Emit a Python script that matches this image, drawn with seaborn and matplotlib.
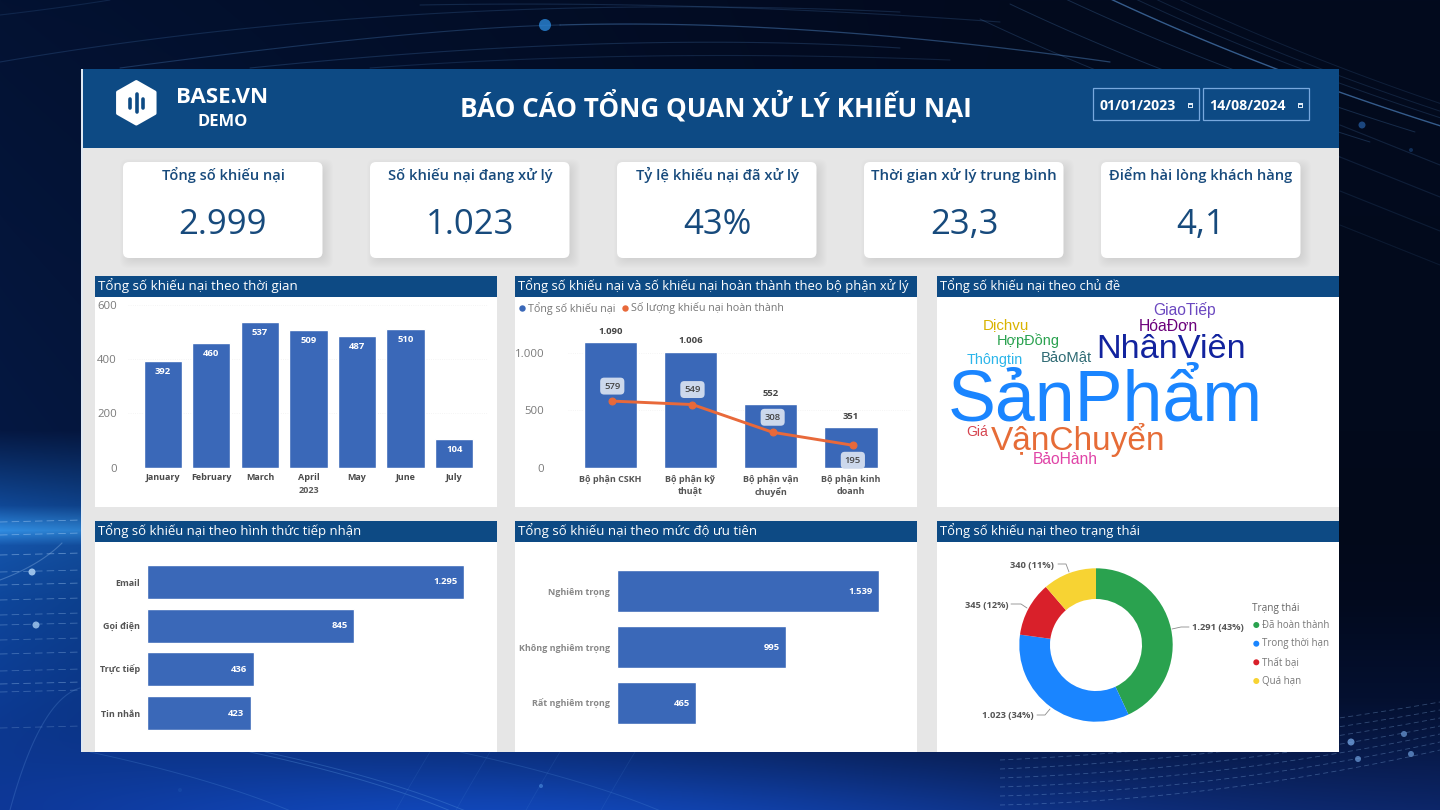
import numpy as np
import pandas as pd
import seaborn as sns
import matplotlib
matplotlib.use("Agg")
import matplotlib.pyplot as plt
from matplotlib.patches import FancyBboxPatch, Rectangle, Polygon, Circle

# ---- report data -------------------------------------------------------
report_title = "BÁO CÁO TỔNG QUAN XỬ LÝ KHIẾU NẠI"
kpi_titles = ["Tổng số khiếu nại", "Số khiếu nại đang xử lý", "Tỷ lệ khiếu nại đã xử lý",
              "Thời gian xử lý trung bình", "Điểm hài lòng khách hàng"]
kpi_values = ["2.999", "1.023", "43%", "23,3", "4,1"]

months = ["January", "February", "March", "April", "May", "June", "July"]
month_counts = [392, 460, 537, 509, 487, 510, 104]

departments = ["Bộ phận CSKH", "Bộ phận kỹ\nthuật", "Bộ phận vận\nchuyển", "Bộ phận kinh\ndoanh"]
dept_total = [1090, 1006, 552, 351]
dept_done = [579, 549, 308, 195]

channels = ["Email", "Gọi điện", "Trực tiếp", "Tin nhắn"]
channel_counts = [1295, 845, 436, 423]

priorities = ["Nghiêm trọng", "Không nghiêm trọng", "Rất nghiêm trọng"]
priority_counts = [1539, 995, 465]

statuses = ["Đã hoàn thành", "Trong thời hạn", "Thất bại", "Quá hạn"]
status_counts = [1291, 1023, 345, 340]
status_labels = ["1.291 (43%)", "1.023 (34%)", "345 (12%)", "340 (11%)"]
status_colors = ["#2aa24f", "#1a85ff", "#d9202a", "#f7d333"]

topics = ["SảnPhẩm", "NhânViên", "VậnChuyển", "GiaoTiếp", "HóaĐơn", "Dịchvụ",
          "HợpĐồng", "Thôngtin", "BảoMật", "Giá", "BảoHành"]
topic_colors = ["#1a85ff", "#12239e", "#e66c37", "#6b48c0", "#6b007b", "#d9b300",
                "#2aa24f", "#2bb5ea", "#2f6b74", "#d64550", "#e044a7"]

# ---- page geometry ------------------------------------------------------
W, H = 1440, 810
BAR = "#3a68b8"
NAVY = "#0d4a84"
INK = "#174a7c"
UI = "Open Sans"
LABEL_PT = 6.8

sns.set_theme(style="white")
plt.rcParams["font.family"] = [UI, "Noto Sans", "DejaVu Sans"]
plt.rcParams["axes.unicode_minus"] = False

fig = plt.figure(figsize=(W / 100, H / 100), dpi=100)
page = fig.add_axes([0, 0, 1, 1])
page.set_xlim(0, W)
page.set_ylim(H, 0)
page.axis("off")
renderer = fig.canvas.get_renderer()


def px_axes(x0, y0, x1, y1):
    ax = fig.add_axes([x0 / W, 1 - y1 / H, (x1 - x0) / W, (y1 - y0) / H])
    ax.patch.set_alpha(0)
    return ax


def fit(x, y, s, width, ha="left", va="center", **kw):
    """Place text on the page, scaled so that it spans the given pixel width."""
    t = page.text(x, y, s, ha=ha, va=va, fontsize=10, **kw)
    t.set_fontsize(10 * width / t.get_window_extent(renderer).width)
    return t


def thousands(v):
    return f"{v:,}".replace(",", ".")


def clean(ax, grid_axis=None):
    sns.despine(ax=ax, left=True, bottom=True)
    ax.set_xlabel("")
    ax.set_ylabel("")
    ax.tick_params(length=0)
    if grid_axis:
        ax.grid(axis=grid_axis, color="#f1f1f1", lw=0.6, ls=":")
        ax.set_axisbelow(True)


# ---- backdrop ------------------------------------------------------------
yy, xx = np.mgrid[0:H, 0:W]
stops_y = [0, 430, 505, 530, 545, 600, 700, 810]
left_rgb = np.array([[3, 18, 50], [5, 24, 66], [16, 72, 150], [48, 140, 225], [20, 84, 170],
                     [14, 70, 155], [12, 58, 145], [11, 42, 120]], float)
right_rgb = np.array([[2, 10, 30], [2, 10, 28], [2, 9, 26], [2, 9, 26], [2, 9, 27],
                      [2, 10, 30], [4, 16, 48], [12, 36, 100]], float)
blend = np.clip(xx / 1000.0, 0, 1) ** 0.9
sky = np.zeros((H, W, 3))
for c in range(3):
    sky[..., c] = (1 - blend) * np.interp(yy, stops_y, left_rgb[:, c]) + blend * np.interp(yy, stops_y, right_rgb[:, c])
glow = np.exp(-((xx - 520) / 560.0) ** 2 - ((yy - 830) / 75.0) ** 2)
sky += glow[..., None] * np.array([6, 34, 80])
page.imshow(np.clip(sky, 0, 255).astype(np.uint8), extent=(0, W, H, 0), aspect="auto", zorder=0)
page.set_xlim(0, W)
page.set_ylim(H, 0)


def curve(p0, p1, p2, color="#5f9fe6", lw=0.8, alpha=0.5, ls="-"):
    s = np.linspace(0, 1, 60)[:, None]
    pts = (1 - s) ** 2 * np.array(p0) + 2 * s * (1 - s) * np.array(p1) + s ** 2 * np.array(p2)
    page.plot(pts[:, 0], pts[:, 1], color=color, lw=lw, alpha=alpha, ls=ls, zorder=1, solid_capstyle="round")


# sweeping lines across the top
curve((0, 62), (420, -10), (900, 12), alpha=0.18)
curve((120, 68), (420, 28), (560, 25), alpha=0.25)
curve((560, 25), (800, 18), (1110, 62), lw=0.9, alpha=0.38)
curve((250, 68), (620, 30), (900, 48), alpha=0.2)
curve((370, 68), (640, 48), (950, 60), alpha=0.16)
curve((420, 5), (700, 0), (1000, 22), alpha=0.18)
curve((0, 15), (60, 8), (110, 0), alpha=0.14)
for dx, dy, a, w in [(0, 0, 0.55, 1.0), (-45, 0, 0.22, 0.7), (-90, 10, 0.22, 0.7), (-120, 25, 0.2, 0.7),
                     (25, 0, 0.18, 0.7), (45, 0, 0.16, 0.7), (68, 0, 0.14, 0.7)]:
    curve((1100 + dx, -6 + dy), (1260 + dx, 70 + dy), (1460 + dx, 132 + dy), alpha=a, lw=w)
for dy, a in [(30, 0.16), (62, 0.14), (96, 0.12), (130, 0.1)]:
    curve((1340, 95 + dy), (1390, 115 + dy), (1440, 135 + dy), alpha=a)
# streaks on the left edge
for y, a in [(522, 0.5), (535, 0.5), (555, 0.5), (572, 0.4), (585, 0.45), (600, 0.4), (615, 0.35), (625, 0.35),
             (640, 0.3), (654, 0.35), (671, 0.3), (684, 0.4), (692, 0.3), (728, 0.25)]:
    page.plot([0, 82], [y, y - 2], color="#a7cdf5", lw=0.6, alpha=a, ls=(0, (9, 5)), zorder=1)
curve((0, 580), (40, 565), (62, 543), color="#a7cdf5", alpha=0.3)
curve((10, 810), (40, 700), (80, 688), color="#6fa5e8", alpha=0.22)
# curves along the bottom
for dx, a in [(0, 0.22), (160, 0.3), (175, 0.28), (370, 0.2)]:
    curve((90 + dx, 752), (220 + dx, 780), (300 + dx, 815), alpha=a, lw=0.7)
for x0, a in [(130, 0.12), (190, 0.12), (260, 0.12), (335, 0.12)]:
    curve((x0 * 1.0 + 300, 752), (x0 + 280, 785), (x0 + 265, 812), alpha=a, lw=0.6)
# dashed mesh at the lower right
for k in range(7):
    curve((1000, 805 - k * 9), (1220, 800 - k * 10), (1440, 750 - k * 8), color="#8fbdf0", lw=0.6, alpha=0.32, ls=(0, (6, 4)))
# nodes
for x, y, r, c, a in [(545, 25, 6, "#2a86d8", 0.8), (1362, 125, 3.5, "#2d6fc0", 0.6), (1411, 150, 2, "#2d6fc0", 0.35),
                      (32, 572, 3.5, "#a8cdf2", 0.9), (36, 625, 3.5, "#a8cdf2", 0.8), (1351, 742, 3.5, "#6f9fdc", 0.8),
                      (1358, 759, 3, "#6f9fdc", 0.7), (1404, 734, 3, "#6f9fdc", 0.7), (1411, 754, 3, "#6f9fdc", 0.7),
                      (180, 790, 2, "#2d6fc0", 0.2), (541, 786, 2, "#4f8fe0", 0.6)]:
    page.add_patch(Circle((x, y), r, fc=c, ec="none", alpha=a, zorder=1.5))

# ---- report canvas and header ---------------------------------------------
page.add_patch(Rectangle((81, 69), 1258, 683, fc="#e6e6e6", ec="none", zorder=2))
page.add_patch(Rectangle((82, 69), 1257, 79, fc=NAVY, ec="none", zorder=2.1))
page.add_patch(Rectangle((81, 69), 1.5, 683, fc="#dfe8f2", ec="none", zorder=2.2))

# hexagon logo with three bars
hx = 136.3 + 18.5 * np.array([0.9, 0.9, 0, -0.9, -0.9, 0]) / 0.9
hy = 102.8 + 21 * np.array([-0.5, 0.5, 1, 0.5, -0.5, -1])
page.add_patch(Polygon(np.c_[hx, hy], closed=True, fc="white", ec="white", lw=2.5, joinstyle="round", zorder=3))
for x, y0, y1 in [(130, 98.5, 108), (136.5, 93.5, 112), (143.3, 99, 107.5)]:
    page.plot([x, x], [y0, y1], color=NAVY, lw=2.6, solid_capstyle="round", zorder=3.1)

fit(176.5, 97.5, "BASE.VN", 92, color="white", fontweight="bold", zorder=3)
fit(223, 122.5, "DEMO", 50, ha="center", color="white", fontweight="bold", zorder=3)
fit(716, 106, report_title, 512, ha="center", color="white", fontweight="bold", zorder=3)

for x0, label in [(1093, "01/01/2023"), (1203, "14/08/2024")]:
    page.add_patch(Rectangle((x0, 88), 105.5, 31.5, fc="none", ec="#78a9de", lw=0.9, zorder=3))
    fit(x0 + 6.5, 105.5, label, 76.5, color="white", fontweight="bold", zorder=3)
    page.add_patch(Rectangle((x0 + 94.5, 102.5), 5.5, 5.5, fc="#dce8f4", ec="none", zorder=3))
    page.add_patch(Rectangle((x0 + 95.5, 105), 3.5, 1.8, fc=NAVY, ec="none", zorder=3.1))

# ---- KPI cards ------------------------------------------------------------
card_left = [123, 370, 617, 864, 1101]
title_width = [123, 164, 162, 186, 184]
for x0, name, val, tw in zip(card_left, kpi_titles, kpi_values, title_width):
    cx = x0 + 100
    for grow in np.linspace(7, -3, 11):
        page.add_patch(FancyBboxPatch((x0 + 4 - grow, 166 - grow), 199 + 2 * grow, 95 + 2 * grow,
                                      boxstyle="round,pad=0,rounding_size=8", fc="black", ec="none",
                                      alpha=0.007, lw=0, zorder=3))
    page.add_patch(FancyBboxPatch((x0, 162), 199.5, 96, boxstyle="round,pad=0,rounding_size=6",
                                  fc="white", ec="none", lw=0, zorder=3.2))
    fit(cx, 175, name, tw, ha="center", color=INK, fontweight="semibold", zorder=4)
    page.text(cx, 224.5, val, ha="center", va="center", fontsize=25, color=INK, zorder=4)

# ---- panels -----------------------------------------------------------------
panels = [
    (95, 276, 497, 507, "Tổng số khiếu nại theo thời gian", 199),
    (515, 276, 917, 507, "Tổng số khiếu nại và số khiếu nại hoàn thành theo bộ phận xử lý", 391),
    (937, 276, 1339, 507, "Tổng số khiếu nại theo chủ đề", 179),
    (95, 521, 497, 752, "Tổng số khiếu nại theo hình thức tiếp nhận", 262),
    (515, 521, 917, 752, "Tổng số khiếu nại theo mức độ ưu tiên", 238),
    (937, 521, 1339, 752, "Tổng số khiếu nại theo trạng thái", 200),
]
for x0, y0, x1, y1, name, tw in panels:
    page.add_patch(Rectangle((x0, y0), x1 - x0, y1 - y0, fc="white", ec="none", zorder=3))
    page.add_patch(Rectangle((x0, y0), x1 - x0, 20.5, fc=NAVY, ec="none", zorder=3.1))
    fit(x0 + 3, y0 + 10, name, tw, color="white", zorder=4)

# monthly totals
ax = px_axes(128, 305, 488, 467.7)
months_df = pd.DataFrame({"month": months, "count": month_counts})
sns.barplot(data=months_df, x="month", y="count", color=BAR, saturation=1, width=0.79, ax=ax)
clean(ax, "y")
ax.set_xlim(-0.714, 6.694)
ax.set_ylim(0, 600)
ax.set_yticks([0, 200, 400, 600])
ax.tick_params(axis="y", labelsize=8.2, labelcolor="#7a7a7a", pad=8)
ax.tick_params(axis="x", labelsize=6.5, labelcolor="#4a4a4a", pad=4)
for lab in ax.get_xticklabels():
    lab.set_fontweight("bold")
for i, v in enumerate(month_counts):
    ax.annotate(str(v), (i, v), xytext=(0, -7.5), textcoords="offset points", ha="center", va="center",
                color="white", fontsize=LABEL_PT, fontweight="bold")
page.text(309, 490.5, "2023", ha="center", va="center", fontsize=6.6, color="#5a5a5a", fontweight="bold", zorder=4)

# department totals with completed line
ax = px_axes(568, 320, 911, 467.7)
dept_df = pd.DataFrame({"dept": departments, "total": dept_total, "done": dept_done})
sns.barplot(data=dept_df, x="dept", y="total", color=BAR, saturation=1, width=0.665, ax=ax)
sns.lineplot(x=np.arange(len(departments)) + 0.025, y=dept_done, color="#e8693a", lw=2.1, marker="o", ms=5,
             mec="#e8693a", ax=ax)
clean(ax, "y")
ax.set_xlim(-0.527, 3.75)
ax.set_ylim(0, 1284)
ax.set_yticks([0, 500, 1000])
ax.set_yticklabels(["0", "500", "1.000"])
ax.tick_params(axis="y", labelsize=8.2, labelcolor="#7a7a7a", pad=17)
ax.tick_params(axis="x", labelsize=6.5, labelcolor="#555555", pad=5)
for lab in ax.get_xticklabels():
    lab.set_fontweight("bold")
    lab.set_linespacing(1.4)
for i, v in enumerate(dept_total):
    ax.annotate(thousands(v), (i, v), xytext=(0, 8), textcoords="offset points", ha="center", va="center",
                color="#444444", fontsize=LABEL_PT, fontweight="bold")
for i, v in enumerate(dept_done):
    off = -10.8 if i == 3 else 10.8
    ax.annotate(str(v), (i + 0.025, v), xytext=(0, off), textcoords="offset points", ha="center", va="center",
                color="#444444", fontsize=LABEL_PT, fontweight="semibold", annotation_clip=False,
                bbox=dict(boxstyle="round,pad=0.42", fc="#ccd8ec", ec="none"), zorder=5)
page.add_patch(Circle((522.5, 308.5), 3.2, fc=BAR, ec="none", zorder=4))
fit(528, 308.5, "Tổng số khiếu nại", 88, color="#777777", zorder=4)
page.add_patch(Circle((625.5, 308.5), 3.2, fc="#e8693a", ec="none", zorder=4))
fit(631, 308.5, "Số lượng khiếu nại hoàn thành", 154, color="#777777", zorder=4)

# topic word cloud: size scaled by frequency, left edge and baseline per word
cloud_layout = [(948, 420.7, 316), (1096, 357.7, 150), (991, 450, 175), (1153, 315, 63), (1139, 330.7, 59.5),
                (982.5, 329, 46.5), (997, 345, 62.5), (966.5, 364, 56), (1041, 361, 51), (966, 436, 22),
                (1032.5, 464, 65.5)]
for word, col, (x, y, w) in zip(topics, topic_colors, cloud_layout):
    fit(x, y, word, w, va="baseline", color=col, family="Liberation Sans", zorder=4)

# intake channels
ax = px_axes(147, 550, 490, 740)
chan_df = pd.DataFrame({"channel": channels, "count": channel_counts})
sns.barplot(data=chan_df, y="channel", x="count", orient="h", color=BAR, saturation=1, width=0.778, ax=ax)
clean(ax)
ax.set_xlim(0, 343 / 0.2448)
ax.set_ylim((740 - 582) / 43.7, (550 - 582) / 43.7)
ax.set_xticks([])
ax.tick_params(axis="y", labelsize=6.5, labelcolor="#555555", pad=5)
for lab in ax.get_yticklabels():
    lab.set_fontweight("bold")
for i, v in enumerate(channel_counts):
    ax.annotate(thousands(v), (v, i), xytext=(-4.5, 0), textcoords="offset points", ha="right", va="center",
                color="white", fontsize=LABEL_PT, fontweight="bold")

# priority levels
ax = px_axes(617, 550, 905, 745)
prio_df = pd.DataFrame({"level": priorities, "count": priority_counts})
sns.barplot(data=prio_df, y="level", x="count", orient="h", color=BAR, saturation=1, width=0.75, ax=ax)
clean(ax)
ax.set_xlim(0, 288 / 0.1702)
ax.set_ylim((745 - 591) / 56, (550 - 591) / 56)
ax.set_xticks([])
ax.tick_params(axis="y", labelsize=6.5, labelcolor="#888888", pad=5)
for lab in ax.get_yticklabels():
    lab.set_fontweight("bold")
for i, v in enumerate(priority_counts):
    ax.annotate(thousands(v), (v, i), xytext=(-4.5, 0), textcoords="offset points", ha="right", va="center",
                color="white", fontsize=LABEL_PT, fontweight="bold")

# complaint status donut
ax = px_axes(1096 - 76.7, 645 - 76.7, 1096 + 76.7, 645 + 76.7)
ax.pie(status_counts, colors=status_colors, startangle=90, counterclock=False, radius=1,
       wedgeprops=dict(width=0.4, edgecolor="none"))
ax.set_xlim(-1, 1)
ax.set_ylim(-1, 1)

leaders = [((1172, 629), (1181, 627), (1189, 627)), ((1050, 709), (1045, 715), (1037, 715)),
           ((1027, 608), (1021, 604), (1011, 604)), ((1069, 572), (1066, 564), (1058, 564))]
label_boxes = [(1192, 627, 52), (982, 715, 51.5), (965, 605, 43.5), (1010, 565, 44)]
for label, seg, (x, y, w) in zip(status_labels, leaders, label_boxes):
    fit(x, y, label, w, color="#555555", fontweight="bold", zorder=4)
    page.plot(*zip(*seg), color="#8c8c8c", lw=0.6, zorder=4)

fit(1252, 609, "Trạng thái", 47, color="#666666", zorder=4)
legend_y = [625, 643.7, 662.3, 681]
legend_w = [67, 67, 37, 39]
for name, col, y, w in zip(statuses, status_colors, legend_y, legend_w):
    page.add_patch(Circle((1256.3, y), 3, fc=col, ec="none", zorder=4))
    fit(1261.5, y, name, w, color="#777777", zorder=4)

fig.savefig("out.png", dpi=100)
